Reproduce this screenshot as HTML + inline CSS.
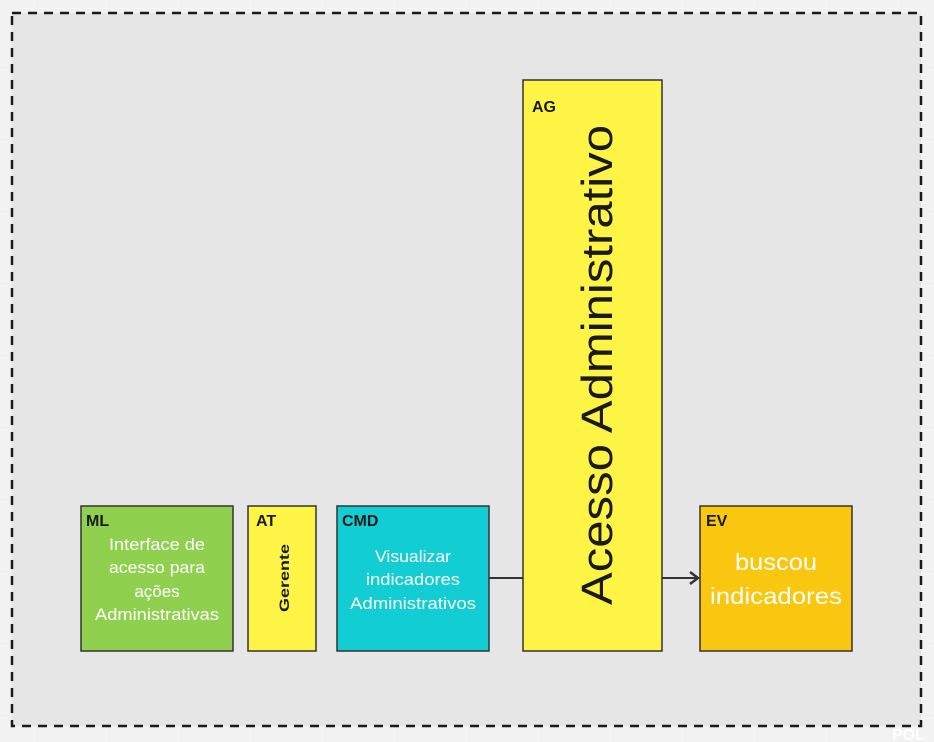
<!DOCTYPE html>
<html><head><meta charset="utf-8"><style>
html,body{margin:0;padding:0;background:#f2f2f2;}
svg{display:block;font-family:"Liberation Sans","DejaVu Sans",sans-serif;}
</style></head><body>
<svg width="934" height="742" viewBox="0 0 934 742" xmlns="http://www.w3.org/2000/svg">
<defs>
<pattern id="g" width="72" height="72" patternUnits="userSpaceOnUse" x="37" y="-5">
<path d="M0 0H72M0 0V72" stroke="#eaeaea" stroke-width="1" fill="none"/>
</pattern>
</defs>
<rect width="934" height="742" fill="#f2f2f2"/>
<rect width="934" height="742" fill="url(#g)"/>
<rect x="12" y="13" width="909" height="713" fill="#e6e6e6" stroke="#1a1a1a" stroke-width="2.5" stroke-dasharray="9,7"/>
<text x="892" y="740" font-size="16" font-weight="bold" fill="#fff">POL</text>

<rect x="81" y="506" width="152" height="145" fill="#8fd14f" stroke="#333" stroke-width="1.5"/>
<text x="86" y="526" font-size="16" font-weight="bold" fill="#1a1a1a">ML</text>
<g font-size="17" fill="#fff" text-anchor="middle">
<text x="157" y="550" textLength="96" lengthAdjust="spacingAndGlyphs">Interface de</text>
<text x="157" y="573" textLength="96" lengthAdjust="spacingAndGlyphs">acesso para</text>
<text x="157" y="597">ações</text>
<text x="157" y="620" textLength="124" lengthAdjust="spacingAndGlyphs">Administrativas</text>
</g>

<rect x="248" y="506" width="68" height="145" fill="#fef445" stroke="#333" stroke-width="1.5"/>
<text x="256" y="526" font-size="16" font-weight="bold" fill="#1a1a1a">AT</text>
<text transform="translate(289,578) rotate(-90)" font-size="14" font-weight="bold" fill="#1a1a1a" text-anchor="middle" textLength="68" lengthAdjust="spacingAndGlyphs">Gerente</text>

<rect x="337" y="506" width="152" height="145" fill="#12cdd4" stroke="#333" stroke-width="1.5"/>
<text x="342" y="526" font-size="16" font-weight="bold" fill="#1a1a1a">CMD</text>
<g font-size="17" fill="#fff" text-anchor="middle">
<text x="413" y="562" textLength="76" lengthAdjust="spacingAndGlyphs">Visualizar</text>
<text x="413" y="585" textLength="94" lengthAdjust="spacingAndGlyphs">indicadores</text>
<text x="413" y="609" textLength="126" lengthAdjust="spacingAndGlyphs">Administrativos</text>
</g>

<line x1="489" y1="578" x2="523" y2="578" stroke="#333" stroke-width="2"/>

<rect x="523" y="80" width="139" height="571" fill="#fef445" stroke="#333" stroke-width="1.5"/>
<text x="532" y="112" font-size="16" font-weight="bold" fill="#1a1a1a">AG</text>
<text transform="translate(612,365) rotate(-90)" font-size="44" fill="#1a1a1a" text-anchor="middle" textLength="480" lengthAdjust="spacingAndGlyphs">Acesso Administrativo</text>

<line x1="662" y1="578" x2="697" y2="578" stroke="#333" stroke-width="2"/>
<path d="M690 572 L698 578 L690 584" fill="none" stroke="#333" stroke-width="2.5"/>

<rect x="700" y="506" width="152" height="145" fill="#fac710" stroke="#333" stroke-width="1.5"/>
<text x="706" y="526" font-size="16" font-weight="bold" fill="#1a1a1a">EV</text>
<g font-size="23" fill="#fff" text-anchor="middle">
<text x="776" y="570" textLength="82" lengthAdjust="spacingAndGlyphs">buscou</text>
<text x="776" y="604" textLength="132" lengthAdjust="spacingAndGlyphs">indicadores</text>
</g>
</svg>
</body></html>
